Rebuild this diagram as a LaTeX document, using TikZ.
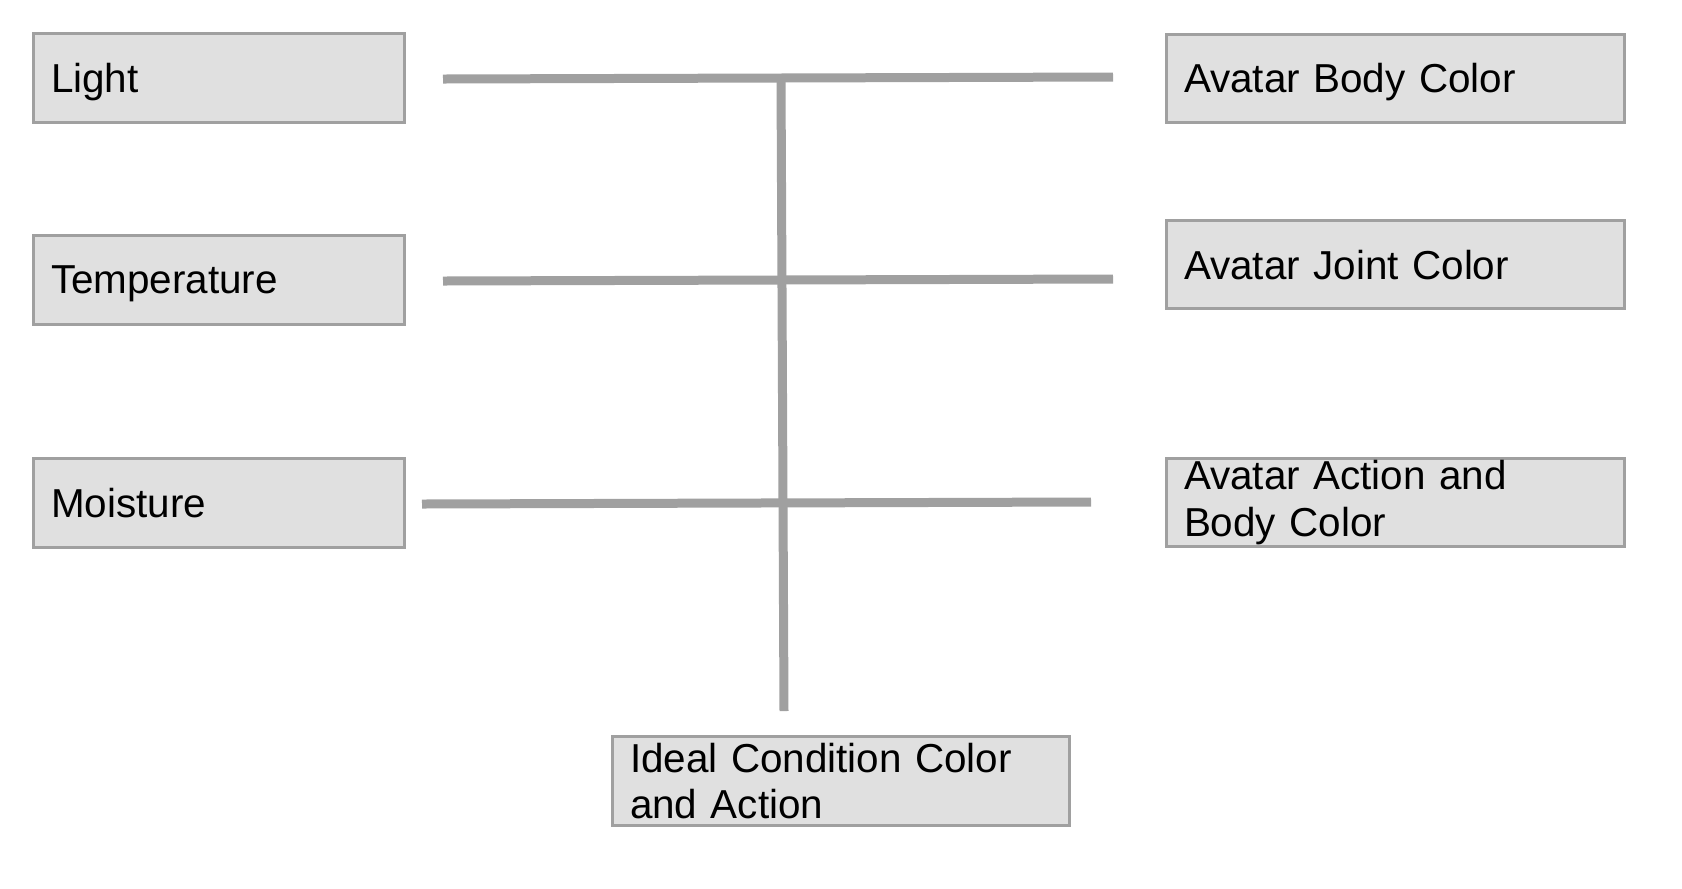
\documentclass[tikz,border=0pt]{standalone}
\usepackage{fontspec}
\setmainfont{Liberation Sans}
\usepackage{tikz}
\usepackage{xcolor}
\definecolor{boxgray}{RGB}{224,224,224}
\definecolor{linegray}{RGB}{160,160,160}

\begin{document}
\begin{tikzpicture}[
  box/.style={draw=linegray,line width=0.03cm,fill=boxgray,rectangle,
    inner xsep=0.175cm,inner ysep=0pt,align=left,
    font=\fontsize{11.5pt}{13.2pt}\selectfont},
  inbox/.style={box,minimum width=3.71cm,minimum height=0.89cm,text width=3.36cm,text depth=0pt},
  outbox/.style={box,minimum width=4.58cm,minimum height=0.88cm,text width=4.23cm},
  link/.style={draw=linegray,line width=0.09cm}
]
\useasboundingbox (0,0) rectangle (16.82,-8.88);

% 输入
\node[inbox] (light) at (2.19,-0.78) {Light};
\node[inbox] (temp) at (2.19,-2.795) {Temperature};
\node[inbox] (moist) at (2.19,-5.025) {Moisture};

% 输出
\node[outbox,text depth=0pt] (body) at (13.955,-0.78) {Avatar Body Color};
\node[outbox,text depth=0pt] (joint) at (13.955,-2.645) {Avatar Joint Color};
\node[outbox] (action) at (13.955,-5.025) {Avatar Action and\\Body Color};

% 理想状态
\node[outbox,minimum width=4.57cm,minimum height=0.89cm,text width=4.22cm] (ideal) at (8.41,-7.81) {Ideal Condition Color\\and Action};

% 连接线
\coordinate (l1a) at (4.43,-0.79);
\coordinate (l1b) at (11.13,-0.77);
\coordinate (l2a) at (4.43,-2.81);
\coordinate (l2b) at (11.13,-2.79);
\coordinate (l3a) at (4.22,-5.04);
\coordinate (l3b) at (10.91,-5.02);
\coordinate (vtop) at (7.81,-0.78);
\coordinate (vbot) at (7.84,-7.11);

\draw[link] (l1a) -- (l1b);
\draw[link] (l2a) -- (l2b);
\draw[link] (l3a) -- (l3b);
\draw[link] (vtop) -- (vbot);
\end{tikzpicture}
\end{document}
